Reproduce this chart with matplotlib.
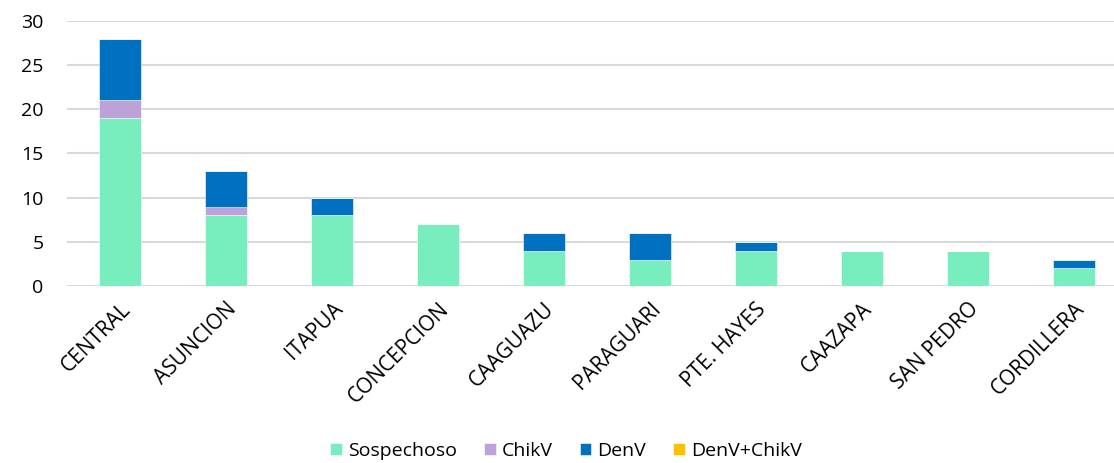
import numpy as np
import matplotlib
matplotlib.use("Agg")
import matplotlib.pyplot as plt

plt.rcParams['font.family'] = ['Open Sans', 'DejaVu Sans']

# ─── Data ───
departamentos = ["CENTRAL", "ASUNCION", "ITAPUA", "CONCEPCION", "CAAGUAZU",
                 "PARAGUARI", "PTE. HAYES", "CAAZAPA", "SAN PEDRO", "CORDILLERA"]
sospechoso = [19, 8, 8, 7, 4, 3, 4, 4, 4, 2]
chikv = [2, 1, 0, 0, 0, 0, 0, 0, 0, 0]
denv = [7, 4, 2, 0, 2, 3, 1, 0, 0, 1]
denv_chikv = [0, 0, 0, 0, 0, 0, 0, 0, 0, 0]

series = [("Sospechoso", sospechoso, "#78edbd"),
          ("ChikV", chikv, "#bca2d8"),
          ("DenV", denv, "#0070c0"),
          ("DenV+ChikV", denv_chikv, "#ffc000")]

fig = plt.figure(figsize=(11.14, 4.63), dpi=100)
ax = fig.add_axes([67 / 1114, 1 - 286 / 463, 1 - 67 / 1114, 265 / 463])

x = np.arange(len(departamentos))
bottom = np.zeros(len(departamentos))
for name, vals, col in series:
    vals = np.array(vals, dtype=float)
    ax.bar(x, vals, 0.4, bottom=bottom, color=col, label=name,
           edgecolor="white", linewidth=0.4, zorder=3)
    bottom += vals

ax.set_ylim(0, 30)
ax.set_yticks(range(0, 31, 5))
ax.set_xlim(-0.5, 9.38)
ax.grid(axis='y', color='#d9d9d9', linewidth=1.5, zorder=0)
ax.set_axisbelow(True)
for s in ax.spines.values():
    s.set_visible(False)
ax.tick_params(axis='y', length=0, labelsize=14, colors='black', pad=17)
ax.set_xticks(x)
ax.set_xticklabels(departamentos, rotation=45, ha='right', rotation_mode='anchor')
ax.tick_params(axis='x', length=0, labelsize=15, colors='black', pad=9)

handles, labels = ax.get_legend_handles_labels()
fig.legend(handles, labels, loc='center', bbox_to_anchor=(566 / 1114, 1 - 451 / 463),
           ncol=4, frameon=False, fontsize=14, handlelength=0.6, handleheight=0.6,
           handletextpad=0.3, columnspacing=1.4)

fig.savefig("out.png", dpi=100)
